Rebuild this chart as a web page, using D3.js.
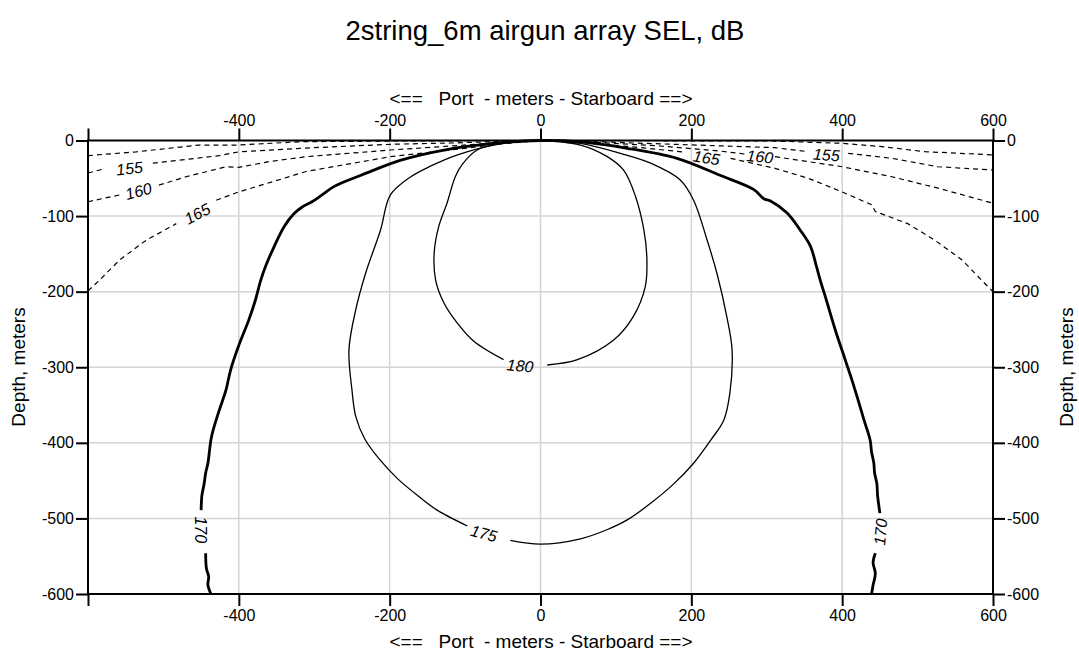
<!DOCTYPE html>
<html>
<head>
<meta charset="utf-8">
<script src="https://cdn.jsdelivr.net/npm/d3@7"></script>
<style>
body{margin:0;background:#fff;}
svg{display:block;font-family:"Liberation Sans",Arial,sans-serif;}
</style>
</head>
<body>
<svg id="chart" width="1079" height="655"></svg>
<script>
// ---- data (x: meters port(-)/starboard(+), depth: meters, negative down) ----
const xTicks = [-600, -400, -200, 0, 200, 400, 600];
const yTicks = [0, -100, -200, -300, -400, -500, -600];
const xGrid = [-400, -200, 0, 200, 400];
const yGrid = [-100, -200, -300, -400, -500];

// contour segments; null marks a gap where a label sits
const c150 = [[-600,-20],[-536,-15],[-453,-6],[-400,-6],[-318,-1.6],[-199,-0.7],[0,0],
  [311,-0.7],[400,-3.7],[453,-8.2],[510,-14.8],[600,-19]];
const c155 = [[-600,-43],[-577,-37],null,[-514,-30],[-426,-20],[-400,-15],[-318,-10.3],[-199,-5],[-119,-3.3],[-53,-1.3],[0,0],
  [53,-1],[185,-5.3],[311,-9.5],[355,-14.8],null,[408,-17],[466,-23.6],[527,-34.7],[600,-39]];
const c160 = [[-600,-81],[-558,-72],null,[-506,-59],[-470,-48],[-417,-34.7],[-400,-35.5],[-360,-28],[-311,-21.4],[-199,-12.6],[-119,-7.3],[-53,-2.6],[0,0],
  [66,-2],[159,-7.3],[238,-14],[271,-17.9],null,[311,-21.4],[400,-34.7],[466,-48],[527,-63],[600,-83]];
const c165 = [[-600,-199],[-585,-185],[-558,-158],[-523,-132],[-483,-110],null,[-430,-79],[-400,-68],[-355,-54.5],[-311,-41],[-199,-21.4],[-119,-12.6],[-53,-4.6],[0,0],
  [53,-2.6],[132,-9.3],[189,-15.2],null,[252,-23.6],[311,-36.8],[355,-50],[400,-68],[439,-85],[444,-94],[487,-110],[523,-132],[559,-158],[585,-185],[600,-200]];
const c170 = [[-437,-600],[-441,-588],[-440,-577],[-443,-566],[-444,-546],null,
  [-450,-489],[-449,-470],[-446,-454],[-444,-440],[-441,-427],[-437,-396],[-434,-383],[-426,-357],[-417,-330],[-411,-304],[-400,-271],[-387,-238],[-378,-211],[-371,-185],[-364,-165],[-353,-140],[-340,-114],[-327,-97],[-316,-88],[-303,-81],[-291,-73],[-274,-61],[-238,-46],[-185,-26],[-128,-12.6],[-62,-3.7],[0,0],
  [49,-1.6],[115,-10.3],[181,-23.6],[238,-46],[283,-65],[296,-77],[305,-80],[327,-96],[344,-118],[358,-140],[366,-167],[371,-185],[379,-211],[391,-251],[404,-290],[413,-317],[421,-343],[429,-370],[437,-396],[439,-412],[442,-427],[443,-440],[446,-454],[447,-470],[450,-493],null,
  [444,-546],[441,-558],[444,-573],[441,-588],[439,-600]];
const c175 = [[-97,-510],[-137,-489],[-160,-472],[-190,-447],[-215,-420],[-233,-395],[-245,-365],[-250,-330],[-254,-277],[-245,-224],[-232,-176],[-212,-118],[-199,-72],[-172,-48],[-146,-34],[-110,-19],[-62,-6],[0,0],
  [53,-3.7],[106,-17],[146,-30],[185,-52],[203,-79],[221,-132],[234,-176],[247,-233],[254,-277],[251,-335],[243,-370],[226,-396],[203,-427],[177,-454],[146,-480],[115,-502],[88,-515],[53,-527],[0,-534],[-40,-529]];
const c180 = [[-49,-290],[-88,-266],[-110,-242],[-128,-215],[-139,-185],[-141,-149],[-135,-114],[-124,-83],[-113,-48],[-104,-32],[-84,-12.6],[-53,-3.7],[-18,-0.3],[0,0],
  [53,-6],[88,-21],[110,-39],[126,-74],[137,-118],[141,-154],[139,-193],[123,-233],[97,-264],[49,-290],[9,-297]];

const labelText = ["155","160","165","155","160","165","170","170","175","180"];
const labelX =    [-545, -533, -455, 379, 291, 220, -451, 451, -75, -27];
const labelY =    [-37,  -67,  -97,  -19, -21.5, -23, -515, -518, -520, -298];
const labelRot =  [-6,   -15,  -28,  4,   6,   9,   90,  -85,  15,  5];

// ---- layout ----
const svg = d3.select("#chart");
const x = d3.scaleLinear().domain([-600, 600]).range([88, 993]);
const y = d3.scaleLinear().domain([0, -600]).range([140.5, 594]);

// title
svg.append("text").attr("x", 545).attr("y", 40).attr("text-anchor", "middle")
  .style("font-size", "27.5px").text("2string_6m airgun array SEL, dB");

// grid
svg.append("g").selectAll("line").data(xGrid).join("line")
  .attr("x1", d => x(d)).attr("x2", d => x(d)).attr("y1", y(0)).attr("y2", y(-600))
  .attr("stroke", "#d4d4d4").attr("stroke-width", 1.5);
svg.append("g").selectAll("line").data(yGrid).join("line")
  .attr("y1", d => y(d)).attr("y2", d => y(d)).attr("x1", x(-600)).attr("x2", x(600))
  .attr("stroke", "#d4d4d4").attr("stroke-width", 1.5);

// contours
const line = d3.line().defined(d => d !== null).x(d => x(d[0])).y(d => y(d[1]));
const smooth = d3.line().defined(d => d !== null).x(d => x(d[0])).y(d => y(d[1])).curve(d3.curveCatmullRom);
const g = svg.append("g").attr("fill", "none").attr("stroke", "#000");
[c150, c155, c160, c165].forEach(c => g.append("path").attr("d", line(c))
  .attr("stroke-width", 1.2).attr("stroke-dasharray", "5,4"));
g.append("path").attr("d", smooth(c170)).attr("stroke-width", 2.8).attr("stroke-linejoin", "round");
g.append("path").attr("d", smooth(c175)).attr("stroke-width", 1.3);
g.append("path").attr("d", smooth(c180)).attr("stroke-width", 1.3);

// contour labels
svg.append("g").selectAll("text").data(labelText).join("text")
  .attr("transform", (d, i) => `translate(${x(labelX[i])},${y(labelY[i])}) rotate(${labelRot[i]})`)
  .attr("text-anchor", "middle").attr("dy", "0.35em")
  .style("font-size", "16px").style("font-style", "italic")
  .text(d => d);

// axes
const fmtX = d => d === -600 ? "" : String(d);
const fmtY = d => String(d);
function styleAxis(sel) {
  sel.select(".domain").remove();
  sel.selectAll(".tick line").attr("stroke-width", 2);
  sel.selectAll(".tick text").style("font-size", "16px").attr("fill", "#000")
    .style("font-family", "'Liberation Sans',Arial,sans-serif");
}
svg.append("g").attr("transform", `translate(0,${y(0)})`)
  .call(d3.axisTop(x).tickValues(xTicks).tickFormat(fmtX).tickSize(12).tickPadding(3)).call(styleAxis);
svg.append("g").attr("transform", `translate(0,${y(-600)})`)
  .call(d3.axisBottom(x).tickValues(xTicks).tickFormat(fmtX).tickSize(12).tickPadding(4)).call(styleAxis);
svg.append("g").attr("transform", `translate(${x(-600)},0)`)
  .call(d3.axisLeft(y).tickValues(yTicks).tickFormat(fmtY).tickSize(12).tickPadding(2)).call(styleAxis);
svg.append("g").attr("transform", `translate(${x(600)},0)`)
  .call(d3.axisRight(y).tickValues(yTicks).tickFormat(fmtY).tickSize(12).tickPadding(2)).call(styleAxis);

// frame
svg.append("rect").attr("x", x(-600)).attr("y", y(0))
  .attr("width", x(600) - x(-600)).attr("height", y(-600) - y(0))
  .attr("fill", "none").attr("stroke", "#000").attr("stroke-width", 2);

// axis titles
const xt = "<==   Port  - meters - Starboard ==>";
[105, 648].forEach(yy => svg.append("text").attr("x", 541).attr("y", yy)
  .attr("text-anchor", "middle").attr("xml:space", "preserve").style("white-space", "pre")
  .style("font-size", "19px").text(xt));
[[25, 367], [1073, 367]].forEach(p => svg.append("text")
  .attr("transform", `translate(${p[0]},${p[1]}) rotate(-90)`)
  .attr("text-anchor", "middle").style("font-size", "19px").text("Depth, meters"));
</script>
</body>
</html>
